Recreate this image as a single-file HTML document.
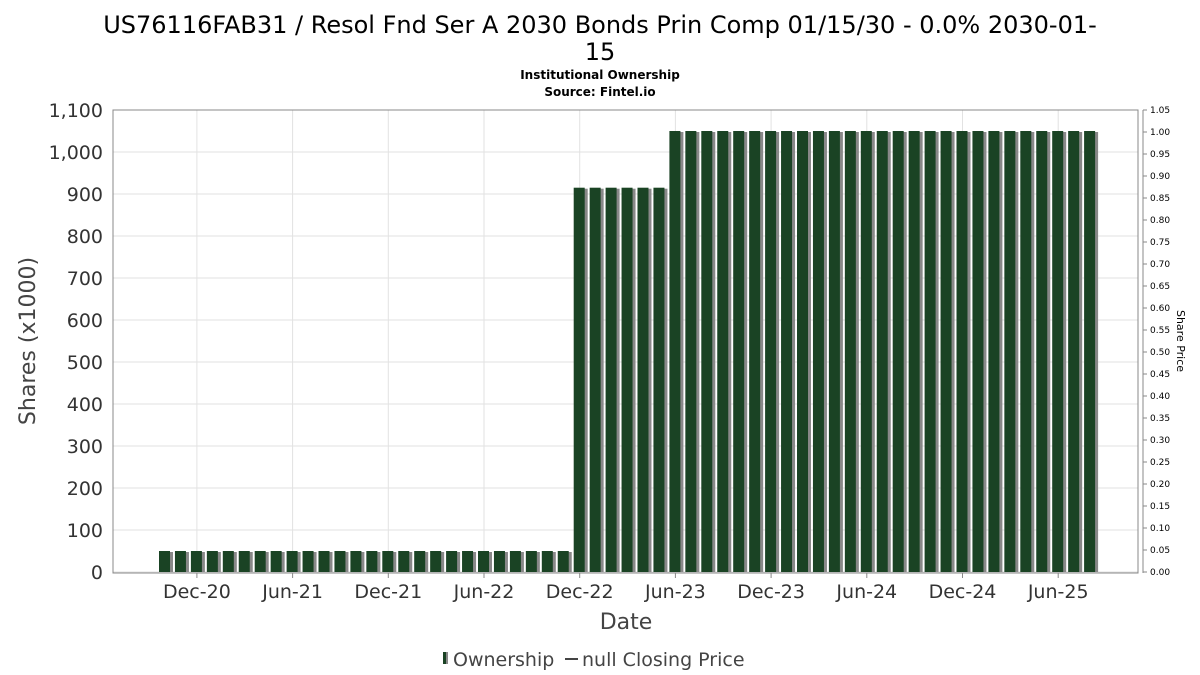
<!DOCTYPE html>
<html><head><meta charset="utf-8"><style>
body{margin:0;background:#fff;font-family:"DejaVu Sans","Liberation Sans",sans-serif;}
svg{display:block}
</style></head><body>
<svg id="chart" width="1200" height="675" xmlns="http://www.w3.org/2000/svg">
<text x="600" y="33" text-anchor="middle" font-size="24" fill="#000">US76116FAB31 / Resol Fnd Ser A 2030 Bonds Prin Comp 01/15/30 - 0.0% 2030-01-</text>
<text x="600" y="60" text-anchor="middle" font-size="24" fill="#000">15</text>
<text x="600" y="79" text-anchor="middle" font-size="12" font-weight="bold">Institutional Ownership</text>
<text x="600" y="96" text-anchor="middle" font-size="12" font-weight="bold">Source: Fintel.io</text>
<g id="grid"></g>
<g id="bars"></g>
<rect x="113" y="110" width="1025" height="463" fill="none" stroke="#888"/>
<line x1="1143" y1="110" x2="1143" y2="573" stroke="#888"/>
<g id="axes"></g>
<text transform="translate(35,341) rotate(-90)" text-anchor="middle" font-size="22" fill="#444">Shares (x1000)</text>
<text transform="translate(1177,341) rotate(90)" text-anchor="middle" font-size="11" fill="#000">Share Price</text>
<text x="626" y="629" text-anchor="middle" font-size="22" fill="#444">Date</text>
<g>
<rect x="443" y="652" width="3" height="12" fill="#1a4324"/><rect x="446" y="652" width="2" height="12" fill="#888"/>
<text x="453" y="666" font-size="19" fill="#444">Ownership</text>
<line x1="565" y1="659" x2="578" y2="659" stroke="#444" stroke-width="2"/>
<text x="582" y="666" font-size="19" fill="#444">null Closing Price</text>
</g>
</svg>
<script>
const NS="http://www.w3.org/2000/svg";
const startMonth=[2020,10];
const ownership=[50,50,50,50,50,50,50,50,50,50,50,50,50,50,50,50,50,50,50,50,50,50,50,50,50,50,
915,915,915,915,915,915,
1050,1050,1050,1050,1050,1050,1050,1050,1050,1050,1050,1050,1050,1050,1050,1050,1050,1050,1050,1050,1050,1050,1050,1050,1050,1050,1050];
const yTicks=[0,100,200,300,400,500,600,700,800,900,1000,1100];
const y2Ticks=["0.00","0.05","0.10","0.15","0.20","0.25","0.30","0.35","0.40","0.45","0.50","0.55","0.60","0.65","0.70","0.75","0.80","0.85","0.90","0.95","1.00","1.05"];
const xTickLabels=["Dec-20","Jun-21","Dec-21","Jun-22","Dec-22","Jun-23","Dec-23","Jun-24","Dec-24","Jun-25"];
const xTickIndex=[2,8,14,20,26,32,38,44,50,56];
function y(v){return 572-v*(462/1100);}
function y2(v){return 572-v*(462/1.05);}
function xc(i){return 165+i*15.95;}
function mk(t,a,p){const e=document.createElementNS(NS,t);for(const k in a)e.setAttribute(k,a[k]);p.appendChild(e);return e;}
const grid=document.getElementById('grid'),bars=document.getElementById('bars'),axes=document.getElementById('axes');
yTicks.forEach(v=>{
 const l=mk('line',{x1:113,x2:1138,y1:y(v),y2:y(v),stroke:'#e2e2e2'},grid);
 
 
 const t=mk('text',{x:103,y:y(v)+7,'text-anchor':'end','font-size':19,fill:'#333'},axes);
 t.textContent=v.toLocaleString('en-US');
 
 
});
y2Ticks.forEach(s=>{
 const v=parseFloat(s);
 const l=mk('line',{x1:1143,x2:1147,y1:y2(v),y2:y2(v),stroke:'#888'},axes);
 
 
 const t=mk('text',{x:1150,y:y2(v)+3,'font-size':9,fill:'#000'},axes);
 t.textContent=s;
 
 
});
xTickLabels.forEach((s,k)=>{
 const x=xc(xTickIndex[k]);
 const l=mk('line',{x1:x,x2:x,y1:110,y2:573,stroke:'#e2e2e2'},grid);
 
 
 const tk=mk('line',{x1:x,x2:x,y1:573,y2:578,stroke:'#888'},axes);
 
 
 const t=mk('text',{x:x,y:598,'text-anchor':'middle','font-size':19,fill:'#333'},axes);
 t.textContent=s;
 
 
});
ownership.forEach((v,i)=>{
 const x=xc(i)-6;
 const s=mk('rect',{x:x+3,y:y(v)+1,width:11,height:572-y(v)-1,fill:'#888'},bars);
 
 
 const b=mk('rect',{x:x,y:y(v),width:11,height:572-y(v),fill:'#1a4324'},bars);
 
 
});
</script>
</body></html>
